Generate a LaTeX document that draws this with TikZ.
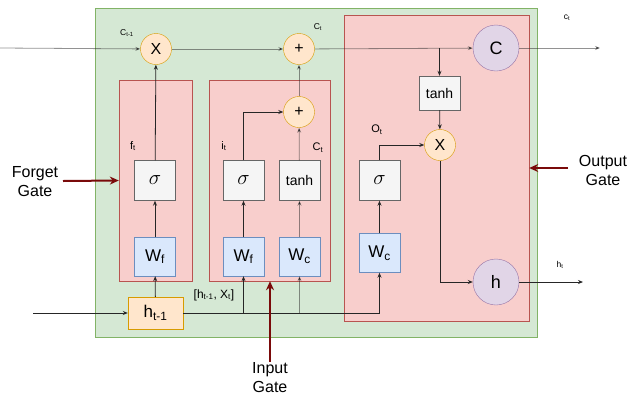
\documentclass[tikz,border=0pt]{standalone}
\usepackage{fontspec}
\setmainfont{Liberation Sans}
\usetikzlibrary{arrows.meta,positioning,calc}
\definecolor{cellgreen}{HTML}{D5E8D4}
\definecolor{cellgreenline}{HTML}{82B366}
\definecolor{gatered}{HTML}{F8CECC}
\definecolor{gateredline}{HTML}{B85450}
\definecolor{wblue}{HTML}{DAE8FC}
\definecolor{wblueline}{HTML}{6C8EBF}
\definecolor{opfill}{HTML}{FFE6CC}
\definecolor{opline}{HTML}{D79B00}
\definecolor{stfill}{HTML}{E1D5E7}
\definecolor{stline}{HTML}{9673A6}
\definecolor{fnfill}{HTML}{F5F5F5}
\definecolor{fnline}{HTML}{666666}
\definecolor{gatearrow}{HTML}{7A0A0A}
\newcommand{\sigmark}{\fontsize{20}{22}\selectfont$\sigma$}
\tikzset{
  region/.style={draw=#1line,fill=#1,inner sep=0pt},
  fnbox/.style={draw=fnline,fill=fnfill,minimum width=41pt,minimum height=40pt,inner sep=0pt,font=\fontsize{14}{16}\selectfont},
  wbox/.style={draw=wblueline,fill=wblue,minimum width=41pt,minimum height=39pt,inner sep=0pt,font=\fontsize{17}{19}\selectfont},
  op/.style={circle,draw=opline,fill=opfill,minimum size=31pt,inner sep=0pt,font=\fontsize{16}{17}\selectfont},
  st/.style={circle,draw=stline,fill=stfill,minimum size=46pt,inner sep=0pt,font=\fontsize{18}{19}\selectfont},
  arr/.style={-{Stealth[length=5pt,width=4pt]},draw=black!85,line width=0.8pt},
  farr/.style={arr,draw opacity=0.5},
  garr/.style={-{Stealth[length=9pt,width=8pt]},draw=gatearrow,line width=2pt},
  lbl/.style={font=\fontsize{8.5}{9}\selectfont,inner sep=0pt},
  vlbl/.style={font=\fontsize{11}{12}\selectfont,inner sep=0pt},
  gate/.style={align=center,font=\fontsize{16}{19}\selectfont,inner sep=1pt},
}
\begin{document}
\begin{tikzpicture}[x=1pt,y=-1pt]
 \useasboundingbox (0,0) rectangle (643,397);
 % containers
 \node[region=cellgreen,minimum width=442pt,minimum height=329pt] (cell) at (316,172.5) {};
 \node[region=gatered,minimum width=73pt,minimum height=201pt] (fgate) at (155.5,180.5) {};
 \node[region=gatered,minimum width=121pt,minimum height=201pt] (igate) at (269.5,180.5) {};
 \node[region=gatered,minimum width=185pt,minimum height=306pt] (ogate) at (436.5,168) {};
 % operators and states
 \node[op] (mulf) at (156,49) {X};
 \node[op] (addc) at (299,49) {+};
 \node[op] (addi) at (299,112) {+};
 \node[op] (mulo) at (440,145) {X};
 \node[st] (cst) at (496,48) {C};
 \node[st] (hst) at (496,282) {h};
 % activation and weight boxes
 \node[fnbox] (sigf) at (155,180.5) {\sigmark};
 \node[fnbox] (sigi) at (243.5,180.5) {\sigmark};
 \node[fnbox] (tanhi) at (299.5,180.5) {tanh};
 \node[fnbox] (sigo) at (379.5,180.5) {\sigmark};
 \node[fnbox,minimum height=34pt] (tanho) at (439.5,93) {tanh};
 \node[wbox] (wf1) at (155,256.5) {W\textsubscript{f}};
 \node[wbox] (wf2) at (243.5,256.5) {W\textsubscript{f}};
 \node[wbox] (wc1) at (299.5,256.5) {W\textsubscript{c}};
 \node[wbox] (wc2) at (379.5,253) {W\textsubscript{c}};
 \node[draw=opline,fill=opfill,minimum width=55pt,minimum height=32pt,inner sep=0pt,font=\fontsize{17}{19}\selectfont] (ht) at (155.5,313) {h\textsubscript{t-1}};
 \coordinate (cin) at (0,48);
 \coordinate (cout) at (600,48);
 \coordinate (hin) at (33,313);
 \coordinate (hout) at (583,282);
 % cell state line
 \draw[farr] (cin) -- (mulf);
 \draw[farr] (mulf) -- (addc);
 \draw[farr] (addc) -- (cst);
 \draw[farr] (cst) -- (cout);
 % forget gate
 \draw[arr] (hin) -- (ht);
 \draw[arr] (ht) -- (wf1);
 \draw[arr] (wf1) -- (sigf);
 \draw[arr] (sigf) -- (mulf);
 % input gate
 \draw[arr] (ht.east) -| (wc2.south);
 \draw[arr] (wf2.south |- ht.east) -- (wf2.south);
 \draw[farr] (wc1.south |- ht.east) -- (wc1.south);
 \draw[arr] (wf2) -- (sigi);
 \draw[farr] (wc1) -- (tanhi);
 \draw[arr] (sigi.north) |- (addi.west);
 \draw[farr] (tanhi) -- (addi);
 \draw[farr] (addi) -- (addc);
 % output gate
 \draw[arr] (wc2) -- (sigo);
 \draw[arr] (sigo.north) |- (mulo.west);
 \draw[arr] (tanho.north |- cst.west) -- (tanho.north);
 \draw[arr] (tanho) -- (mulo);
 \draw[arr] (mulo.south) |- (hst.west);
 \draw[arr] (hst) -- (hout);
 % small labels
 \node[lbl] (lcprev) at (127,33) {C\textsubscript{t-1}};
 \node[lbl] (lcnow) at (318,27) {C\textsubscript{t}};
 \node[lbl] (lcout) at (567,18) {c\textsubscript{t}};
 \node[vlbl] (lft) at (133,146) {f\textsubscript{t}};
 \node[vlbl] (lit) at (224,146) {i\textsubscript{t}};
 \node[vlbl] (lct) at (318,148) {C\textsubscript{t}};
 \node[vlbl] (lot) at (377,130) {O\textsubscript{t}};
 \node[lbl] (lht) at (560,265) {h\textsubscript{t}};
 \node[vlbl,font=\fontsize{12}{13}\selectfont] (lhx) at (214,295) {[h\textsubscript{t-1}, X\textsubscript{t}]};
 % gate labels
 \node[gate] (flbl) at (35,182) {Forget\\Gate};
 \node[gate] (olbl) at (603,170) {Output\\Gate};
 \node[gate] (ilbl) at (270,378) {Input\\Gate};
 \draw[garr] (63,181) -- (fgate.west);
 \draw[garr] (568,168) -- (ogate.east);
 \draw[garr] (ilbl.north) -- (ilbl.north |- igate.south);
\end{tikzpicture}
\end{document}
